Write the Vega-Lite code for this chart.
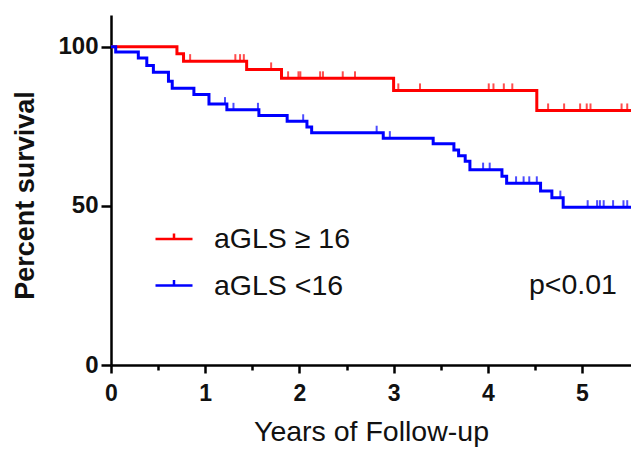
{
  "$schema": "https://vega.github.io/schema/vega-lite/v6.json",
  "width": 520,
  "height": 350,
  "autosize": "none",
  "padding": {"left": 111, "top": 15, "right": 0, "bottom": 86},
  "background": "white",
  "config": {
    "view": {"stroke": null},
    "font": "Liberation Sans",
    "axis": {"grid": false, "domainColor": "black", "tickColor": "black", "labelColor": "#111", "titleColor": "#111", "labelFont": "Liberation Sans", "titleFont": "Liberation Sans", "labelFlush": false}
  },
  "datasets": {
    "steps": [
      {"g": "aGLS ≥ 16", "t": 0, "s": 100},
      {"g": "aGLS ≥ 16", "t": 0.70, "s": 97.8},
      {"g": "aGLS ≥ 16", "t": 0.77, "s": 95.5},
      {"g": "aGLS ≥ 16", "t": 1.44, "s": 92.9},
      {"g": "aGLS ≥ 16", "t": 1.81, "s": 90.1},
      {"g": "aGLS ≥ 16", "t": 3.0, "s": 86.3},
      {"g": "aGLS ≥ 16", "t": 4.52, "s": 80.0},
      {"g": "aGLS ≥ 16", "t": 5.52, "s": 80.0},
      {"g": "aGLS <16", "t": 0, "s": 100},
      {"g": "aGLS <16", "t": 0.05, "s": 98.4},
      {"g": "aGLS <16", "t": 0.29, "s": 96.5},
      {"g": "aGLS <16", "t": 0.38, "s": 94.1},
      {"g": "aGLS <16", "t": 0.45, "s": 92.0},
      {"g": "aGLS <16", "t": 0.61, "s": 89.2},
      {"g": "aGLS <16", "t": 0.65, "s": 87.0},
      {"g": "aGLS <16", "t": 0.88, "s": 85.0},
      {"g": "aGLS <16", "t": 1.04, "s": 82.0},
      {"g": "aGLS <16", "t": 1.23, "s": 80.2},
      {"g": "aGLS <16", "t": 1.57, "s": 78.4},
      {"g": "aGLS <16", "t": 1.87, "s": 76.6},
      {"g": "aGLS <16", "t": 2.08, "s": 74.8},
      {"g": "aGLS <16", "t": 2.13, "s": 73.0},
      {"g": "aGLS <16", "t": 2.89, "s": 71.3},
      {"g": "aGLS <16", "t": 3.42, "s": 69.5},
      {"g": "aGLS <16", "t": 3.64, "s": 67.6},
      {"g": "aGLS <16", "t": 3.69, "s": 65.8},
      {"g": "aGLS <16", "t": 3.76, "s": 64.0},
      {"g": "aGLS <16", "t": 3.81, "s": 61.4},
      {"g": "aGLS <16", "t": 4.15, "s": 59.3},
      {"g": "aGLS <16", "t": 4.20, "s": 57.1},
      {"g": "aGLS <16", "t": 4.56, "s": 54.7},
      {"g": "aGLS <16", "t": 4.68, "s": 52.6},
      {"g": "aGLS <16", "t": 4.80, "s": 49.6},
      {"g": "aGLS <16", "t": 5.52, "s": 49.6}
    ],
    "censor": [
      {"g": "aGLS ≥ 16", "t": 0.84, "s": 95.5},
      {"g": "aGLS ≥ 16", "t": 1.32, "s": 95.5},
      {"g": "aGLS ≥ 16", "t": 1.37, "s": 95.5},
      {"g": "aGLS ≥ 16", "t": 1.41, "s": 95.5},
      {"g": "aGLS ≥ 16", "t": 1.70, "s": 92.9},
      {"g": "aGLS ≥ 16", "t": 1.88, "s": 90.1},
      {"g": "aGLS ≥ 16", "t": 1.99, "s": 90.1},
      {"g": "aGLS ≥ 16", "t": 2.01, "s": 90.1},
      {"g": "aGLS ≥ 16", "t": 2.22, "s": 90.1},
      {"g": "aGLS ≥ 16", "t": 2.25, "s": 90.1},
      {"g": "aGLS ≥ 16", "t": 2.46, "s": 90.1},
      {"g": "aGLS ≥ 16", "t": 2.59, "s": 90.1},
      {"g": "aGLS ≥ 16", "t": 3.05, "s": 86.3},
      {"g": "aGLS ≥ 16", "t": 3.28, "s": 86.3},
      {"g": "aGLS ≥ 16", "t": 4.01, "s": 86.3},
      {"g": "aGLS ≥ 16", "t": 4.06, "s": 86.3},
      {"g": "aGLS ≥ 16", "t": 4.17, "s": 86.3},
      {"g": "aGLS ≥ 16", "t": 4.26, "s": 86.3},
      {"g": "aGLS ≥ 16", "t": 4.64, "s": 80.0},
      {"g": "aGLS ≥ 16", "t": 4.81, "s": 80.0},
      {"g": "aGLS ≥ 16", "t": 4.98, "s": 80.0},
      {"g": "aGLS ≥ 16", "t": 5.05, "s": 80.0},
      {"g": "aGLS ≥ 16", "t": 5.09, "s": 80.0},
      {"g": "aGLS ≥ 16", "t": 5.42, "s": 80.0},
      {"g": "aGLS ≥ 16", "t": 5.48, "s": 80.0},
      {"g": "aGLS <16", "t": 1.21, "s": 82.0},
      {"g": "aGLS <16", "t": 1.30, "s": 80.2},
      {"g": "aGLS <16", "t": 1.56, "s": 80.2},
      {"g": "aGLS <16", "t": 2.04, "s": 76.6},
      {"g": "aGLS <16", "t": 2.82, "s": 73.0},
      {"g": "aGLS <16", "t": 2.96, "s": 71.3},
      {"g": "aGLS <16", "t": 3.95, "s": 61.4},
      {"g": "aGLS <16", "t": 4.02, "s": 61.4},
      {"g": "aGLS <16", "t": 4.30, "s": 57.1},
      {"g": "aGLS <16", "t": 4.38, "s": 57.1},
      {"g": "aGLS <16", "t": 4.44, "s": 57.1},
      {"g": "aGLS <16", "t": 4.52, "s": 57.1},
      {"g": "aGLS <16", "t": 4.77, "s": 52.6},
      {"g": "aGLS <16", "t": 5.06, "s": 49.6},
      {"g": "aGLS <16", "t": 5.16, "s": 49.6},
      {"g": "aGLS <16", "t": 5.19, "s": 49.6},
      {"g": "aGLS <16", "t": 5.23, "s": 49.6},
      {"g": "aGLS <16", "t": 5.33, "s": 49.6},
      {"g": "aGLS <16", "t": 5.44, "s": 49.6},
      {"g": "aGLS <16", "t": 5.48, "s": 49.6}
    ],
    "note": [{"label": "p<0.01"}]
  },
  "resolve": {"axis": {"x": "independent"}},
  "layer": [
    {
      "data": {"name": "steps"},
      "mark": {"type": "line", "interpolate": "step-after", "strokeWidth": 3, "clip": true},
      "encoding": {
        "x": {
          "field": "t", "type": "quantitative",
          "scale": {"domain": [0, 5.52], "nice": false, "zero": false},
          "axis": {
            "orient": "bottom",
            "values": [0, 1, 2, 3, 4, 5],
            "format": "d",
            "title": "Years of Follow-up",
            "titleFontSize": 28.5,
            "titleFontWeight": "normal",
            "titleBaseline": "alphabetic",
            "titleY": 75,
            "labelFontSize": 23,
            "labelFontWeight": "bold",
            "labelPadding": 9,
            "tickSize": 8,
            "tickWidth": 2.5,
            "domainWidth": 2.5
          }
        },
        "y": {
          "field": "s", "type": "quantitative",
          "scale": {"domain": [0, 110], "nice": false},
          "axis": {
            "values": [0, 50, 100],
            "title": "Percent survival",
            "titleFontSize": 27,
            "titleFontWeight": "bold",
            "titleBaseline": "middle",
            "titleX": -86,
            "titleY": 180,
            "labelFontSize": 24,
            "labelFontWeight": "bold",
            "labelPadding": 3,
            "tickSize": 10,
            "tickWidth": 2.5,
            "domainWidth": 2.5
          }
        },
        "color": {
          "field": "g", "type": "nominal",
          "scale": {"domain": ["aGLS ≥ 16", "aGLS <16"], "range": ["#ff0000", "#0000ff"]},
          "legend": {
            "title": null,
            "orient": "none",
            "legendX": 43,
            "legendY": 204,
            "padding": 0,
            "symbolType": "M-1,0H1M0,0V-0.3",
            "symbolSize": 1369,
            "symbolStrokeWidth": 2.5,
            "symbolFillColor": "transparent",
            "labelFontSize": 28.5,
            "labelFont": "Liberation Sans",
            "labelColor": "#111",
            "labelOffset": 20,
            "labelLimit": 400,
            "rowPadding": 11.5
          }
        }
      }
    },
    {
      "data": {"name": "censor"},
      "mark": {"type": "tick", "orient": "vertical", "size": 7, "thickness": 2, "yOffset": -3.5},
      "encoding": {
        "x": {
          "field": "t", "type": "quantitative",
          "axis": {
            "orient": "bottom",
            "values": [0.5, 1.5, 2.5, 3.5, 4.5],
            "labels": false,
            "domain": false,
            "title": null,
            "tickSize": 5,
            "tickWidth": 2.5
          }
        },
        "y": {"field": "s", "type": "quantitative"},
        "color": {"field": "g", "type": "nominal", "legend": null}
      }
    },
    {
      "data": {"name": "note"},
      "mark": {"type": "text", "align": "right", "baseline": "middle", "fontSize": 28.5, "font": "Liberation Sans", "color": "#111"},
      "encoding": {
        "x": {"datum": 5.37, "type": "quantitative", "axis": null},
        "y": {"datum": 25.2, "type": "quantitative"},
        "text": {"field": "label", "type": "nominal"}
      }
    }
  ]
}
